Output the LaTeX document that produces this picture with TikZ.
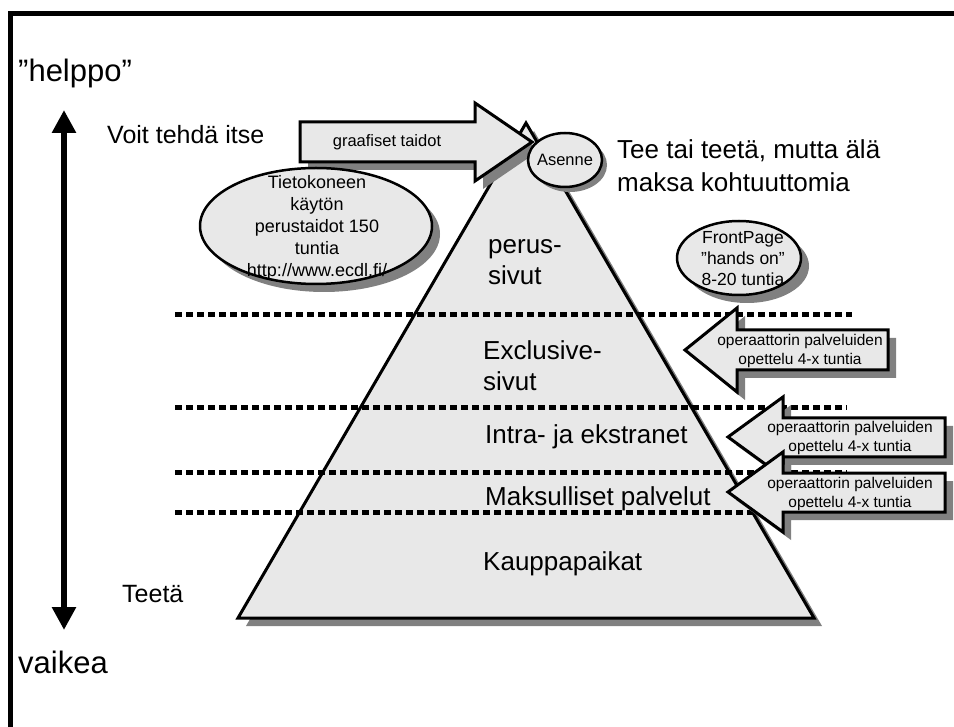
\documentclass[tikz,border=0pt]{standalone}
\usepackage{fontspec}
\setmainfont{Liberation Sans}
\usetikzlibrary{arrows.meta,shapes.geometric,shadows}
\definecolor{panel}{HTML}{E8E8E8}
\definecolor{shadowgray}{HTML}{808080}
\tikzset{
  sh/.style={drop shadow={shadow xshift=#1pt, shadow yshift=-#1pt, fill=shadowgray, opacity=1}},
  sh/.default=8,
  panelbox/.style={fill=panel, draw=black, line width=3pt, line join=miter},
  bubble/.style={ellipse, fill=panel, draw=black, line width=2.5pt, inner sep=0pt},
  dotrule/.style={line width=5pt, dash pattern=on 6.5pt off 4.5pt},
  txt/.style={inner sep=0pt, text=black},
  huge/.style={txt, font=\fontsize{31}{36}\selectfont},
  large/.style={txt, font=\fontsize{26}{33}\selectfont},
  layer/.style={txt, font=\fontsize{26}{31}\selectfont, align=left},
  side/.style={txt, font=\fontsize{25}{30}\selectfont},
  bubbletext/.style={txt, font=\fontsize{18}{22}\selectfont, align=center},
  tagtext/.style={txt, font=\fontsize{15.5}{19}\selectfont, align=center},
  bigtip/.style={line width=6pt, {Triangle[width=23pt,length=23pt]}-{Triangle[width=23pt,length=23pt]}},
}
\begin{document}
\begin{tikzpicture}[x=1pt,y=-1pt]
\useasboundingbox (0,0) rectangle (954,727);
\fill[white] (0,0) rectangle (954,727);

% frame along the top and left edges
\draw[line width=5pt] (10,727) -- (10,14) -- (954,14);

% the pyramid
\coordinate (apex) at (526,123);
\coordinate (baseL) at (238,618);
\coordinate (baseR) at (814,618);
\filldraw[panelbox, sh] (apex) -- (baseR) -- (baseL) -- cycle;

% dotted rules between the levels
\coordinate (r1a) at (175,315); \coordinate (r1b) at (852,315);
\coordinate (r2a) at (175,408); \coordinate (r2b) at (847,408);
\coordinate (r3a) at (175,472); \coordinate (r3b) at (847,472);
\coordinate (r4a) at (175,512); \coordinate (r4b) at (847,512);
\draw[dotrule] (r1a) -- (r1b);
\draw[dotrule] (r2a) -- (r2b);
\draw[dotrule] (r3a) -- (r3b);
\draw[dotrule] (r4a) -- (r4b);

% level names
\node[layer, anchor=west] (lv1) at (488,262) {perus-\\sivut};
\node[layer, anchor=west] (lv2) at (483,366) {Exclusive-\\sivut};
\node[layer, anchor=base west] (lv3) at (485,443) {Intra- ja ekstranet};
\node[layer, anchor=base west] (lv4) at (485,505) {Maksulliset palvelut};
\node[layer, anchor=base west] (lv5) at (483,570) {Kauppapaikat};

% easy / hard scale
\node[huge, anchor=base west] (easy) at (18,82) {”helppo”};
\node[huge, anchor=base west] (hard) at (18,673) {vaikea};
\coordinate (scaleTop) at (64,110);
\coordinate (scaleBot) at (64,630);
\draw[bigtip] (scaleTop) -- (scaleBot);
\node[side, anchor=base west] (self) at (107,144) {Voit tehdä itse};
\node[side, anchor=base west] (buy) at (122,602) {Teetä};
\node[large, anchor=west, align=left] (advice) at (617,166) {Tee tai teetä, mutta älä\\maksa kohtuuttomia};

% arrow towards the top
\filldraw[panelbox, sh] (300,122) -- (475,122) -- (475,103) -- (532,142)
  -- (475,181) -- (475,162) -- (300,162) -- cycle;
\node[txt, font=\fontsize{16.5}{20}\selectfont] (skills) at (387,142) {graafiset taidot};

% bubbles
\node[bubble, sh=5, minimum width=74pt, minimum height=54pt] (attitude) at (565,160) {};
\node[txt, font=\fontsize{16.5}{20}\selectfont] (attT) at (attitude) {Asenne};

\node[bubble, sh, minimum width=232pt, minimum height=116pt] (ecdl) at (316,226) {};
\node[bubbletext] (ecdlT) at (317,228) {Tietokoneen\\käytön\\perustaidot 150\\tuntia\\http://www.ecdl.fi/};

\node[bubble, sh, minimum width=124pt, minimum height=74pt] (fp) at (739,258) {};
\node[txt, font=\fontsize{17.5}{21}\selectfont, align=center] (fpT) at (743,259) {FrontPage\\”hands on”\\8-20 tuntia};

% arrows pointing into the pyramid
\filldraw[panelbox, sh] (685,350) -- (737,308) -- (737,330) -- (888,330)
  -- (888,370) -- (737,370) -- (737,392) -- cycle;
\node[tagtext] (op1) at (800,351) {operaattorin palveluiden\\opettelu 4-x tuntia};

\filldraw[panelbox, sh] (728,437) -- (783,397) -- (783,418) -- (945,418)
  -- (945,457) -- (783,457) -- (783,477) -- cycle;
\node[tagtext] (op2) at (850,438) {operaattorin palveluiden\\opettelu 4-x tuntia};

\filldraw[panelbox, sh] (728,492) -- (783,452) -- (783,473) -- (945,473)
  -- (945,512) -- (783,512) -- (783,532) -- cycle;
\node[tagtext] (op3) at (850,494) {operaattorin palveluiden\\opettelu 4-x tuntia};
\end{tikzpicture}
\end{document}
